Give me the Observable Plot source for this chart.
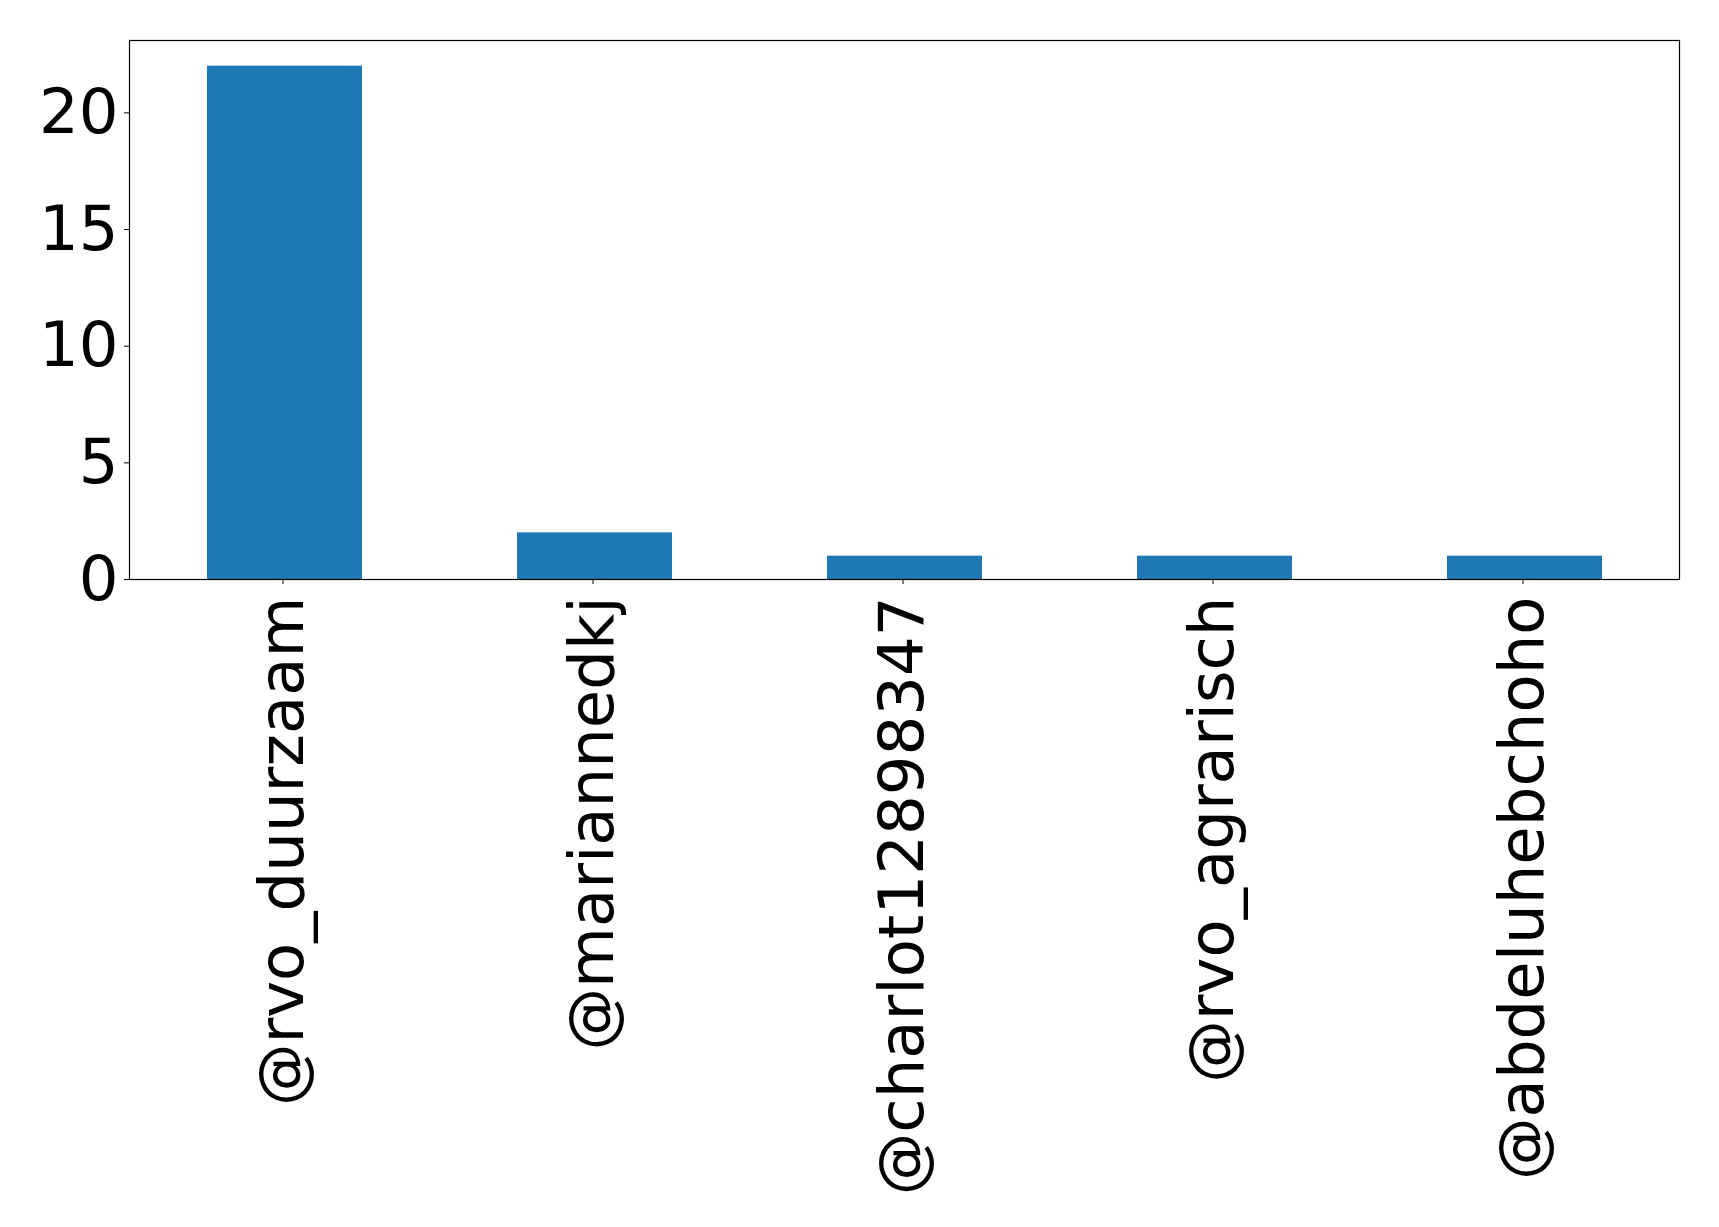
<!DOCTYPE html>
<html>
<head>
<meta charset="utf-8">
<script src="https://cdn.jsdelivr.net/npm/d3@7"></script>
<script src="https://cdn.jsdelivr.net/npm/@observablehq/plot@0.6"></script>
<style>
  html, body { margin: 0; padding: 0; background: #fff; }
  #chart svg { display: block; }
</style>
</head>
<body>
<div id="chart"></div>
<script>
const accounts = ["@rvo_duurzaam", "@mariannedkj", "@charlot12898347", "@rvo_agrarisch", "@abdeluhebchoho"];
const counts = [22, 2, 1, 1, 1];
const yTicks = [0, 5, 10, 15, 20];

const data = accounts.map((a, i) => ({account: a, count: counts[i]}));

const chart = Plot.plot({
  width: 1719,
  height: 1227,
  marginLeft: 129,
  marginRight: 40,
  marginTop: 40,
  marginBottom: 648,
  style: {fontFamily: "DejaVu Sans", fontSize: "62.5px", color: "#000", background: "#fff"},
  x: {domain: accounts, paddingInner: 0.5, paddingOuter: 0.25, label: null},
  y: {domain: [0, 23.1], label: null},
  marks: [
    Plot.barY(data, {x: "account", y: "count", fill: "#1f77b4"}),
    Plot.frame({stroke: "#000", strokeWidth: 1.2}),
    Plot.axisY({ticks: yTicks, tickSize: 5, tickPadding: 6, label: null, fontSize: 62.5}),
    Plot.axisX({tickSize: 5, tickPadding: 12, tickRotate: -90, label: null, fontSize: 62.5, dx: -2})
  ]
});
document.getElementById("chart").appendChild(chart);
</script>
</body>
</html>
